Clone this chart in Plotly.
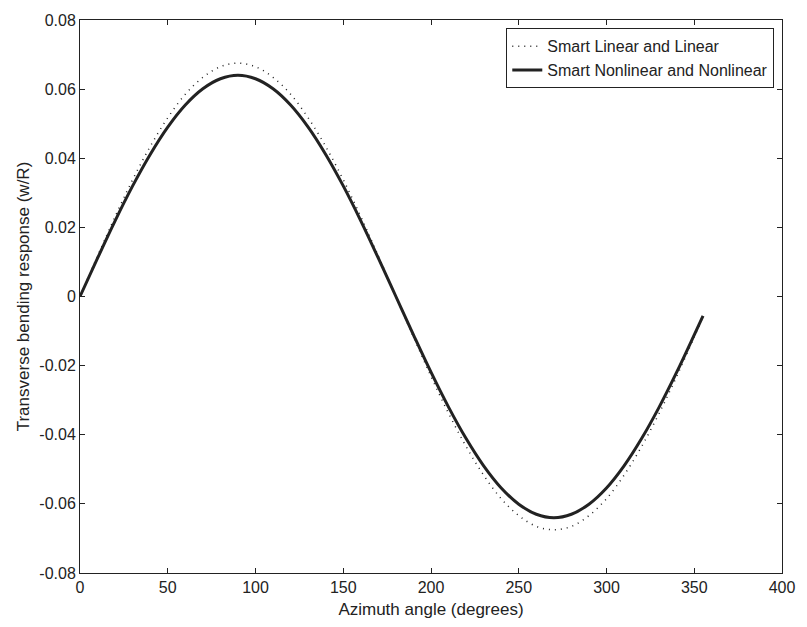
import plotly.graph_objects as go

# Azimuth angle (degrees)
azimuth = [0, 10, 20, 30, 40, 50, 60, 70, 80, 90, 100, 110, 120, 130, 140, 150,
           160, 170, 180, 190, 200, 210, 220, 230, 240, 250, 260, 270, 280, 290,
           300, 310, 320, 330, 340, 350, 355]

# Transverse bending response (w/R)
smart_linear = [0.0, 0.0117, 0.0231, 0.0338, 0.0434, 0.0517, 0.0585, 0.0634, 0.0665,
                0.0675, 0.0665, 0.0634, 0.0585, 0.0517, 0.0434, 0.0338, 0.0231, 0.0117,
                0.0, -0.0117, -0.0231, -0.0338, -0.0434, -0.0517, -0.0585, -0.0634,
                -0.0665, -0.0675, -0.0665, -0.0634, -0.0585, -0.0517, -0.0434, -0.0338,
                -0.0231, -0.0117, -0.0059]

smart_nonlinear = [0.0, 0.0111, 0.0219, 0.0320, 0.0411, 0.0490, 0.0554, 0.0601, 0.0630,
                   0.0640, 0.0630, 0.0601, 0.0554, 0.0490, 0.0411, 0.0320, 0.0219, 0.0111,
                   0.0, -0.0111, -0.0219, -0.0320, -0.0411, -0.0490, -0.0554, -0.0601,
                   -0.0630, -0.0640, -0.0630, -0.0601, -0.0554, -0.0490, -0.0411, -0.0320,
                   -0.0219, -0.0111, -0.0056]

x_ticks = [0, 50, 100, 150, 200, 250, 300, 350, 400]
y_ticks = [-0.08, -0.06, -0.04, -0.02, 0, 0.02, 0.04, 0.06, 0.08]
y_labels = ["-0.08", "-0.06", "-0.04", "-0.02", "0", "0.02", "0.04", "0.06", "0.08"]

FONT = "Liberation Sans, Arial, Helvetica, sans-serif"

fig = go.Figure()
fig.add_trace(go.Scatter(
    x=azimuth, y=smart_linear, mode="lines", name="Smart Linear and Linear",
    line=dict(color="#222222", width=1.5, dash="1px,5px", shape="spline"),
))
fig.add_trace(go.Scatter(
    x=azimuth, y=smart_nonlinear, mode="lines", name="Smart Nonlinear and Nonlinear",
    line=dict(color="#222222", width=3, shape="spline"),
))

axis_common = dict(
    showgrid=False, zeroline=False, showline=True, linecolor="#222222", linewidth=1,
    mirror="ticks", ticks="inside", ticklen=5, tickcolor="#222222", tickwidth=1,
    tickfont=dict(family=FONT, size=16, color="#222222"),
)

fig.update_layout(
    width=807, height=627,
    margin=dict(l=80, r=15, t=12, b=54),
    paper_bgcolor="white", plot_bgcolor="white",
    font=dict(family=FONT, size=16, color="#222222"),
    xaxis=dict(range=[0, 400], tickvals=x_ticks,
               title=dict(text="Azimuth angle (degrees)", font=dict(size=17), standoff=7),
               **axis_common),
    yaxis=dict(range=[-0.08, 0.08], tickvals=y_ticks, ticktext=y_labels,
               title=dict(text="Transverse bending response (w/R)", font=dict(size=17), standoff=5),
               **axis_common),
    legend=dict(
        x=0.989, y=0.985, xanchor="right", yanchor="top",
        bgcolor="white", bordercolor="#222222", borderwidth=1,
        font=dict(family=FONT, size=16, color="#222222"),
        tracegroupgap=0, itemwidth=30,
    ),
    showlegend=True,
)

fig.write_html("out.html")
